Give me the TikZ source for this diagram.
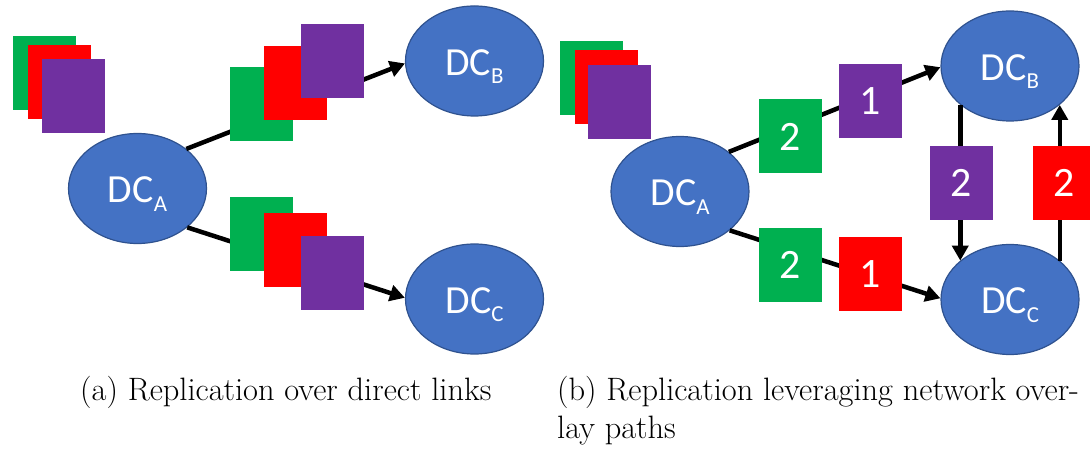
\documentclass[tikz,border=0pt]{standalone}
\usepackage{fontspec}
\newfontfamily\dcfont{Carlito}
\usetikzlibrary{shapes.geometric,arrows.meta}
\definecolor{dcblue}{HTML}{4472C4}
\definecolor{dcedge}{HTML}{2F528F}
\definecolor{pgreen}{HTML}{00B050}
\definecolor{pred}{HTML}{FF0000}
\definecolor{ppurple}{HTML}{7030A0}
\newcommand\dcsub[1]{\raisebox{-8.5bp}{\fontsize{23}{23}\selectfont #1}}

\begin{document}
\begin{tikzpicture}[x=1bp,y=-1bp,
  dc/.style={ellipse, fill=dcblue, draw=dcedge, line width=1.2bp, inner sep=0pt,
    minimum width=138bp, minimum height=110bp, text=white,
    font=\dcfont\fontsize{40}{40}\selectfont, text height=32bp, text depth=3bp},
  pkt/.style={inner sep=0pt, minimum width=63bp, minimum height=74bp, text=white,
    font=\dcfont\fontsize{42}{42}\selectfont},
  gpkt/.style={pkt, fill=pgreen},
  rpkt/.style={pkt, fill=pred},
  ppkt/.style={pkt, fill=ppurple},
  link/.style={line width=4.5bp},
  arr/.style={link, -{Triangle[length=15bp,width=16bp]}},
  captext/.style={anchor=base west, inner sep=0pt, font=\fontsize{32.5}{38}\selectfont},
]
\useasboundingbox (0,0) rectangle (1090,449);

% ---------- (a) replication over direct links ----------
\node[dc] (A1) at (137.5,188.5) {DC\dcsub{A}};
\node[dc] (B1) at (474.5,61) {DC\dcsub{B}};
\node[dc] (C1) at (474.5,299) {DC\dcsub{C}};

\draw[arr] (A1.39) -- (B1.182);
\draw[arr] (A1.322) -- (C1.179);

% data held at the source
\node[gpkt] (a-src-g) at (44.5,73) {};
\node[rpkt] (a-src-r) at (59.5,82) {};
\node[ppkt] (a-src-p) at (73.5,96.5) {};
% copies on the link to B
\node[gpkt] (a-ab-g) at (261.5,104) {};
\node[rpkt] (a-ab-r) at (295.5,83) {};
\node[ppkt] (a-ab-p) at (332,61.5) {};
% copies on the link to C
\node[gpkt] (a-ac-g) at (261.5,234) {};
\node[rpkt] (a-ac-r) at (295.5,250) {};
\node[ppkt] (a-ac-p) at (332.5,273.5) {};

\node[captext] (capa) at (80,401) {(a) Replication over direct links};

% ---------- (b) replication over overlay paths ----------
\node[dc] (A2) at (680,191.5) {DC\dcsub{A}};
\node[dc] (B2) at (1010,66) {DC\dcsub{B}};
\node[dc] (C2) at (1010,299.5) {DC\dcsub{C}};

\draw[arr] (A2.39) -- (B2.181);
\draw[arr] (A2.322) -- (C2.179);
\draw[arr] (B2.218) -- (B2.218 |- C2.142);
\draw[arr] (C2.38) -- (C2.38 |- B2.322);

% data held at the source
\node[gpkt] (b-src-g) at (591,78.5) {};
\node[rpkt] (b-src-r) at (606.5,87.5) {};
\node[ppkt] (b-src-p) at (619.5,102) {};
% pieces in flight, numbered by transfer step
\node[gpkt] (b-ab-g) at (790,136.5) {2};
\node[ppkt] (b-ab-p) at (870,101) {1};
\node[gpkt] (b-ac-g) at (790,265) {2};
\node[rpkt] (b-ac-r) at (870,274.5) {1};
\node[ppkt] (b-bc-p) at (961.5,183) {2};
\node[rpkt] (b-cb-r) at (1064,183) {2};

\node[captext] (capb1) at (557,401) {(b) Replication leveraging network over-};
\node[captext] (capb2) at (557,438) {lay paths};
\end{tikzpicture}
\end{document}
